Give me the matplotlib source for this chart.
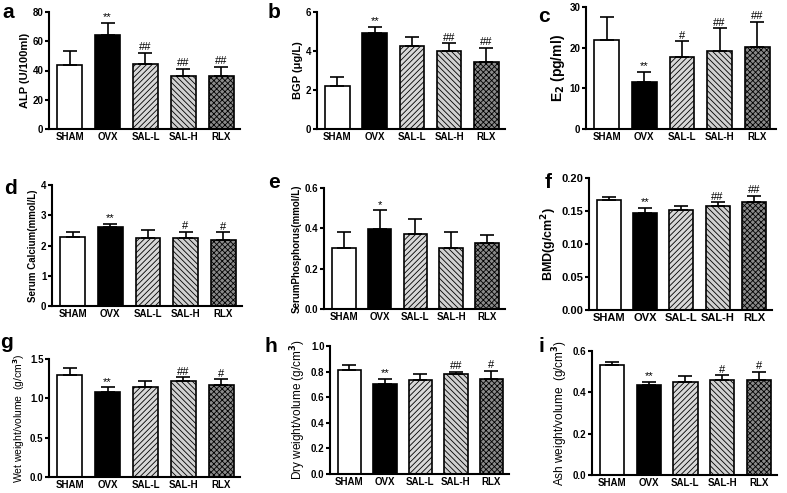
import matplotlib
matplotlib.use("Agg")
import matplotlib.pyplot as plt
import numpy as np

plt.rcParams['font.family'] = ['Liberation Sans', 'DejaVu Sans']
plt.rcParams['font.weight'] = 'bold'
plt.rcParams['hatch.linewidth'] = 0.6

groups = ["SHAM", "OVX", "SAL-L", "SAL-H", "RLX"]

alp_mean = [43.5, 64.0, 44.5, 36.0, 36.0]
alp_top = [53.5, 72.5, 52.0, 41.0, 42.5]
alp_sig = ["", "**", "##", "##", "##"]

bgp_mean = [2.2, 4.92, 4.25, 4.0, 3.45]
bgp_top = [2.65, 5.25, 4.72, 4.4, 4.15]
bgp_sig = ["", "**", "", "##", "##"]

e2_mean = [21.8, 11.6, 17.8, 19.2, 20.2]
e2_top = [27.6, 14.0, 21.6, 24.8, 26.4]
e2_sig = ["", "**", "#", "##", "##"]

ca_mean = [2.28, 2.6, 2.26, 2.26, 2.18]
ca_top = [2.45, 2.72, 2.5, 2.45, 2.44]
ca_sig = ["", "**", "", "#", "#"]

p_mean = [0.30, 0.395, 0.37, 0.30, 0.325]
p_top = [0.38, 0.49, 0.445, 0.38, 0.365]
p_sig = ["", "*", "", "", ""]

bmd_mean = [0.166, 0.147, 0.152, 0.158, 0.163]
bmd_top = [0.171, 0.155, 0.158, 0.163, 0.173]
bmd_sig = ["", "**", "", "##", "##"]

wet_mean = [1.30, 1.08, 1.15, 1.22, 1.165]
wet_top = [1.38, 1.14, 1.22, 1.27, 1.24]
wet_sig = ["", "**", "", "##", "#"]

dry_mean = [0.815, 0.705, 0.735, 0.78, 0.745]
dry_top = [0.85, 0.745, 0.785, 0.80, 0.805]
dry_sig = ["", "**", "", "##", "#"]

ash_mean = [0.53, 0.435, 0.448, 0.46, 0.46]
ash_top = [0.548, 0.452, 0.48, 0.482, 0.50]
ash_sig = ["", "**", "", "#", "#"]

facecolors = ["white", "black", "#d8d8d8", "#d0d0d0", "#8a8a8a"]
hatches = [None, None, "//////", "\\\\\\\\\\\\", "xxxxxx"]

W, H = 787, 493
fig = plt.figure(figsize=(W / 100, H / 100), dpi=100)


def add_panel(box, letter, letter_xy, mean, top, sig, ymax, ystep, ylabel, fmt,
              ylabel_size=8, ylabel_weight="bold", tick_size=7):
    x0, y0, x1, y1 = box  # pixel box: left, top, right, bottom
    ax = fig.add_axes([x0 / W, 1 - y1 / H, (x1 - x0) / W, (y1 - y0) / H])
    x = np.arange(len(groups))
    for i in range(len(groups)):
        ax.bar(x[i], mean[i], width=0.66, color=facecolors[i], edgecolor="black",
               linewidth=1.2, hatch=hatches[i], zorder=2)
    err = np.array(top) - np.array(mean)
    ax.errorbar(x, mean, yerr=[np.zeros(len(x)), err], fmt="none", ecolor="black",
                elinewidth=1.2, capsize=5, capthick=1.2, zorder=3)
    for i, s in enumerate(sig):
        if s:
            ax.text(x[i], top[i] + ymax * 0.005, s, ha="center", va="bottom",
                    fontsize=8, fontweight="normal")
    ax.set_xlim(-0.55, 4.5)
    ax.set_ylim(0, ymax)
    ax.set_yticks(np.arange(0, ymax + ystep / 2, ystep))
    ax.yaxis.set_major_formatter(plt.FormatStrFormatter(fmt))
    ax.set_xticks(x)
    ax.set_xticklabels(groups)
    ax.spines["top"].set_visible(False)
    ax.spines["right"].set_visible(False)
    ax.spines["left"].set_linewidth(1.5)
    ax.spines["bottom"].set_linewidth(1.5)
    ax.tick_params(axis="both", labelsize=tick_size, width=1.5, length=3, pad=1)
    ax.tick_params(axis="x", length=0, pad=2)
    for lab in ax.get_xticklabels() + ax.get_yticklabels():
        lab.set_fontweight("bold")
    ax.set_ylabel(ylabel, fontsize=ylabel_size, fontweight=ylabel_weight, labelpad=2)
    fig.text(letter_xy[0] / W, 1 - letter_xy[1] / H, letter, fontsize=15,
             fontweight="bold", ha="left", va="center")
    return ax


add_panel((49, 12, 240, 129), "a", (2, 12), alp_mean, alp_top, alp_sig, 80, 20,
          "ALP (U/100ml)", "%d")
add_panel((317, 12, 505, 129), "b", (268, 12), bgp_mean, bgp_top, bgp_sig, 6, 2,
          "BGP (μg/L)", "%d")
add_panel((586, 7, 776, 129), "c", (538, 17), e2_mean, e2_top, e2_sig, 30, 10,
          "E$_2$ (pg/ml)", "%d", 10)
add_panel((52, 185, 242, 306), "d", (4, 189), ca_mean, ca_top, ca_sig, 4, 1,
          "Serum Calcium(mmol/L)", "%d", 7)
add_panel((324, 188, 505, 309), "e", (268, 183), p_mean, p_top, p_sig, 0.6, 0.2,
          "SerumPhosphorus(mmol/L)", "%.1f", 7)
add_panel((589, 178, 772, 310), "f", (545, 183), bmd_mean, bmd_top, bmd_sig, 0.20, 0.05,
          "BMD(g/cm$^2$)", "%.2f", 9, tick_size=8)
add_panel((49, 359, 240, 477), "g", (0, 343), wet_mean, wet_top, wet_sig, 1.5, 0.5,
          "Wet weight/volume  (g/cm$^3$)", "%.1f", 7.5, "normal")
add_panel((330, 346, 509, 474), "h", (264, 347), dry_mean, dry_top, dry_sig, 1.0, 0.2,
          "Dry weight/volume (g/cm$^3$)", "%.1f", 8.5, "normal")
add_panel((592, 351, 777, 475), "i", (539, 346), ash_mean, ash_top, ash_sig, 0.6, 0.2,
          "Ash weight/volume  (g/cm$^3$)", "%.1f", 8.5, "normal")

fig.savefig("out.png", dpi=100)
